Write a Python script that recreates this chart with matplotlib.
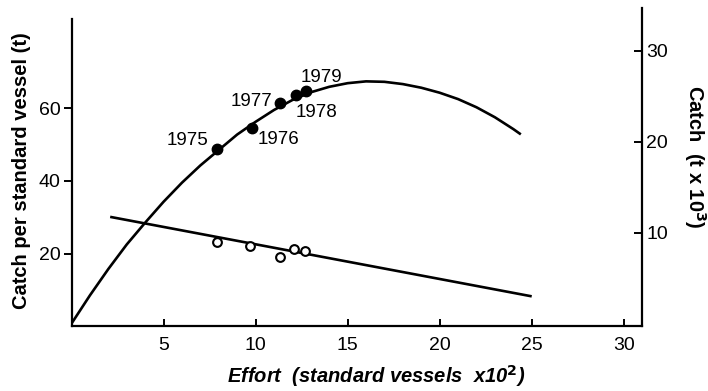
import matplotlib.pyplot as plt
import numpy as np

plt.rcParams['font.family'] = ['Liberation Sans', 'DejaVu Sans']

# effort (standard vessels x 10^2) and catch per standard vessel (t), open circles
effort_pts = [7.9, 9.7, 11.35, 12.1, 12.7]
cpue_pts = [23.2, 22.0, 19.1, 21.2, 20.7]

# catch (t x 10^3) by year, filled circles
years = ['1975', '1976', '1977', '1978', '1979']
effort_yr = [7.9, 9.8, 11.3, 12.2, 12.74]
catch_yr = [19.2, 21.5, 24.3, 25.1, 25.6]

# catch per vessel regression line, end points
cpue_line_x = [2.1, 25.0]
cpue_line_y = [30.1, 8.2]

# equilibrium catch curve
curve_x = [0, 1, 2, 3, 4, 5, 6, 7, 8, 9, 10, 11, 12, 13, 14, 15, 16, 17, 18,
           19, 20, 21, 22, 23, 24, 24.35]
curve_y = [0, 3.1, 6.0, 8.7, 11.1, 13.4, 15.5, 17.4, 19.1, 20.8, 22.2, 23.5, 24.6,
           25.45, 26.05, 26.45, 26.65, 26.6, 26.35, 25.95, 25.4, 24.7, 23.8, 22.7,
           21.4, 20.9]

fig = plt.figure(figsize=(7.08, 3.91), dpi=100)
ax = fig.add_axes([0.101, 0.166, 0.806, 0.813])
ax2 = ax.twinx()

lw = 1.9
ax.plot(cpue_line_x, cpue_line_y, color='black', lw=lw, solid_capstyle='butt')
ax.plot(effort_pts, cpue_pts, 'o', mfc='white', mec='black', mew=1.5, ms=6.3)

ax2.plot(curve_x, curve_y, color='black', lw=lw, solid_joinstyle='round')
ax2.plot(effort_yr, catch_yr, 'o', color='black', ms=7.5)

# year labels: offsets in points and alignment
offsets = [(-6, 6, 'right'), (4, -8, 'left'), (-5, 1, 'right'), (0, -12, 'left'), (-4, 10, 'left')]
for yr, x, y, (dx, dy, ha) in zip(years, effort_yr, catch_yr, offsets):
    ax2.annotate(yr, (x, y), xytext=(dx, dy), textcoords='offset points',
                 ha=ha, va='center', fontsize=13.5)

ax.set_xlim(0, 31)
ax.set_ylim(0, 87.6)
ax2.set_ylim(-0.28, 34.7)

ax.set_xticks([5, 10, 15, 20, 25, 30])
ax.set_yticks([20, 40, 60])
ax2.set_yticks([10, 20, 30])

for a in (ax, ax2):
    a.spines['top'].set_visible(False)
    for s in a.spines.values():
        s.set_linewidth(1.6)
ax2.spines['left'].set_visible(False)
ax2.spines['bottom'].set_visible(False)
ax.spines['right'].set_visible(False)
ax.spines['left'].set_bounds(0, 84.7)

ax.tick_params(axis='x', direction='in', length=5, width=1.4, pad=8, labelsize=14)
ax.tick_params(axis='y', direction='out', length=6, width=1.4, pad=2, labelsize=14)
ax2.tick_params(axis='y', direction='in', length=6, width=1.4, pad=3, labelsize=14)

fig.text(376 / 708, 1 - 376 / 391, r'Effort  (standard vessels  x10$^\mathbf{2}$)',
         ha='center', va='center', fontsize=14.5, fontweight='bold', style='italic')
fig.text(22 / 708, 1 - 171 / 391, 'Catch per standard vessel (t)', rotation=90,
         ha='center', va='center', fontsize=14.5, fontweight='bold')
fig.text(695 / 708, 1 - 157 / 391, r'Catch  (t x 10$^\mathbf{3}$)', rotation=-90,
         ha='center', va='center', fontsize=14.5, fontweight='bold')

fig.savefig('out.png', dpi=100)
